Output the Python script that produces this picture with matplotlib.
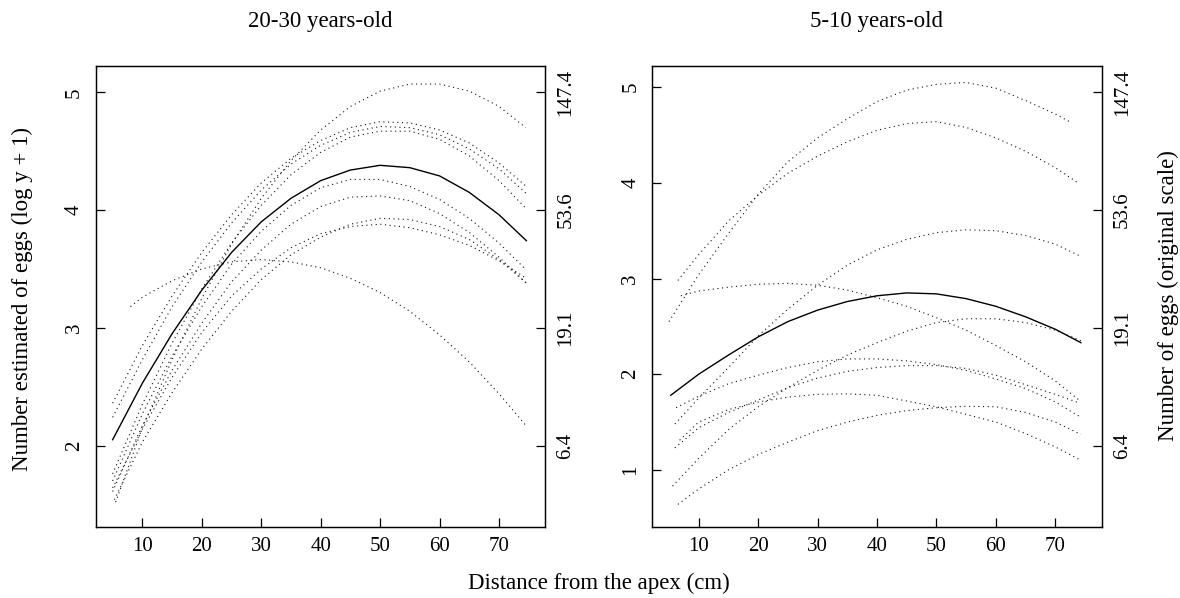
import matplotlib
matplotlib.use("Agg")
import matplotlib.pyplot as plt

plt.rcParams['font.family'] = ['Liberation Serif', 'DejaVu Serif']

# ---------------- data ----------------
distance_mid = [10, 15, 20, 25, 30, 35, 40, 45, 50, 55, 60, 65, 70]

panel_titles = ["20-30 years-old", "5-10 years-old"]
x_ticks = [10, 20, 30, 40, 50, 60, 70]
old_y_ticks = [2, 3, 4, 5]
young_y_ticks = [1, 2, 3, 4, 5]
orig_scale_ticks = [2, 3, 4, 5]
orig_scale_labels = ["6.4", "19.1", "53.6", "147.4"]

# 20-30 years-old: individual curves (dotted) and mean curve (solid)
old_mean = [2.05, 2.53, 2.95, 3.32, 3.64, 3.90, 4.10, 4.25, 4.34, 4.38, 4.36, 4.29, 4.15, 3.96, 3.74]
old_mean_ends = [5.0, 74.6]
old_A = [1.52, 2.15, 2.73, 3.25, 3.71, 4.10, 4.42, 4.68, 4.88, 5.01, 5.07, 5.07, 5.01, 4.88, 4.70]
old_B = [2.36, 2.85, 3.27, 3.64, 3.96, 4.23, 4.44, 4.59, 4.70, 4.75, 4.74, 4.68, 4.57, 4.40, 4.20]
old_C = [2.24, 2.73, 3.18, 3.56, 3.89, 4.17, 4.39, 4.55, 4.66, 4.71, 4.70, 4.64, 4.52, 4.35, 4.14]
old_D = [1.76, 2.35, 2.87, 3.33, 3.72, 4.04, 4.30, 4.49, 4.62, 4.67, 4.67, 4.60, 4.46, 4.25, 4.01]
old_E = [1.70, 2.27, 2.76, 3.18, 3.54, 3.82, 4.04, 4.19, 4.26, 4.26, 4.20, 4.09, 3.93, 3.72, 3.49]
old_F = [1.61, 2.17, 2.64, 3.04, 3.39, 3.66, 3.88, 4.03, 4.11, 4.12, 4.08, 3.97, 3.81, 3.60, 3.38]
old_G = [1.54, 2.03, 2.45, 2.82, 3.14, 3.41, 3.62, 3.77, 3.88, 3.93, 3.92, 3.86, 3.75, 3.58, 3.38]
old_H = [1.64, 2.14, 2.58, 2.96, 3.27, 3.50, 3.68, 3.80, 3.86, 3.88, 3.85, 3.79, 3.70, 3.57, 3.42]
old_I = [3.18, 3.26, 3.40, 3.50, 3.56, 3.58, 3.56, 3.51, 3.42, 3.30, 3.14, 2.94, 2.71, 2.44, 2.16]
old_curves = [old_A, old_B, old_C, old_D, old_E, old_F, old_G, old_H, old_I]
old_starts = [5.5, 5.0, 5.0, 5.0, 5.0, 5.0, 5.3, 5.0, 8.0]
old_ends = [74.5, 74.6, 74.6, 74.6, 74.6, 74.6, 74.6, 74.6, 74.7]

# 5-10 years-old
young_mean = [1.78, 2.00, 2.20, 2.39, 2.55, 2.67, 2.76, 2.82, 2.85, 2.84, 2.79, 2.71, 2.60, 2.47, 2.33]
young_mean_ends = [5.3, 74.3]
young_A = [2.55, 3.04, 3.47, 3.88, 4.22, 4.47, 4.67, 4.85, 4.97, 5.03, 5.05, 4.99, 4.86, 4.72, 4.64]
young_B = [2.98, 3.25, 3.60, 3.87, 4.10, 4.28, 4.43, 4.55, 4.62, 4.64, 4.58, 4.47, 4.33, 4.16, 4.00]
young_C = [2.82, 2.87, 2.91, 2.94, 2.95, 2.93, 2.88, 2.80, 2.71, 2.59, 2.46, 2.30, 2.13, 1.93, 1.73]
young_D = [1.48, 1.75, 2.07, 2.40, 2.68, 2.93, 3.14, 3.30, 3.41, 3.48, 3.51, 3.50, 3.45, 3.36, 3.24]
young_E = [0.83, 1.12, 1.42, 1.66, 1.86, 2.04, 2.20, 2.33, 2.45, 2.54, 2.58, 2.58, 2.54, 2.46, 2.35]
young_F = [1.65, 1.77, 1.90, 1.99, 2.07, 2.13, 2.16, 2.16, 2.14, 2.10, 2.04, 1.95, 1.85, 1.71, 1.55]
young_G = [1.23, 1.44, 1.60, 1.73, 1.86, 1.96, 2.03, 2.07, 2.09, 2.09, 2.06, 1.99, 1.89, 1.79, 1.70]
young_H = [1.31, 1.50, 1.63, 1.71, 1.76, 1.79, 1.795, 1.78, 1.72, 1.66, 1.58, 1.50, 1.38, 1.24, 1.10]
young_I = [0.64, 0.80, 1.00, 1.16, 1.29, 1.41, 1.50, 1.57, 1.62, 1.65, 1.665, 1.66, 1.60, 1.50, 1.37]
young_curves = [young_A, young_B, young_C, young_D, young_E, young_F, young_G, young_H, young_I]
young_starts = [5.0, 6.5, 7.0, 6.0, 5.6, 6.2, 6.0, 6.8, 6.5]
young_ends = [72.4, 73.8, 74.0, 74.0, 74.3, 74.3, 74.0, 74.3, 74.3]

# ---------------- figure ----------------
W, H = 1180, 598
fig = plt.figure(figsize=(W / 100, H / 100), dpi=100)

ax_w = 449.4 / W
ax_h = (527.3 - 65.7) / H
ax_b = 1 - 527.3 / H
ax1 = fig.add_axes([96.0 / W, ax_b, ax_w, ax_h])
ax2 = fig.add_axes([652.3 / W, ax_b, ax_w, ax_h])

old_ylim = (1.306, 5.226)
young_ylim = (0.40, 5.225)
xlim = (2.2, 77.8)

dot_style = dict(color='#111111', lw=0.8, linestyle=(0, (1, 3.2)))
solid_style = dict(color='black', lw=1.0)


def xs(start, end):
    return [start] + distance_mid + [end]


for curve, s, e in zip(old_curves, old_starts, old_ends):
    ax1.plot(xs(s, e), curve, **dot_style)
ax1.plot(xs(*old_mean_ends), old_mean, **solid_style)

for curve, s, e in zip(young_curves, young_starts, young_ends):
    ax2.plot(xs(s, e), curve, **dot_style)
ax2.plot(xs(*young_mean_ends), young_mean, **solid_style)

tick_fs = 15
for ax, ylim, yt, title in [(ax1, old_ylim, old_y_ticks, panel_titles[0]),
                            (ax2, young_ylim, young_y_ticks, panel_titles[1])]:
    ax.set_xlim(*xlim)
    ax.set_ylim(*ylim)
    ax.set_xticks(x_ticks)
    ax.set_yticks(yt)
    ax.set_yticklabels([str(v) for v in yt])
    for sp in ax.spines.values():
        sp.set_linewidth(0.9)
    ax.tick_params(axis='both', direction='in', length=6.5, width=0.9,
                   labelsize=tick_fs)
    ax.tick_params(axis='x', pad=6.8)
    ax.tick_params(axis='y', pad=8.6, labelrotation=90)
    for lab in ax.get_yticklabels():
        lab.set_va('center')
    # twin axis with original-scale labels (positions follow the 20-30 panel scale)
    axr = ax.twinx()
    axr.set_ylim(*old_ylim)
    axr.set_yticks(orig_scale_ticks)
    axr.set_yticklabels(orig_scale_labels)
    axr.tick_params(axis='y', direction='in', length=6.5, width=0.9,
                    labelsize=tick_fs, pad=8.0, labelrotation=90)
    for lab in axr.get_yticklabels():
        lab.set_va('center')
    for sp in axr.spines.values():
        sp.set_linewidth(0.9)
    bb = ax.get_position()
    fig.text(bb.x0 + bb.width / 2, 1 - 22 / H, title, ha='center', va='center',
             fontsize=16.5)

label_fs = 16.5
fig.text(22 / W, 0.5, "Number estimated of eggs (log y + 1)", rotation=90,
         ha='center', va='center', fontsize=label_fs)
fig.text(1168 / W, 1 - 296 / H, "Number of eggs (original scale)", rotation=90,
         ha='center', va='center', fontsize=label_fs)
fig.text(599 / W, 1 - 583 / H, "Distance from the apex (cm)", ha='center',
         va='center', fontsize=label_fs)

fig.savefig("out.png", dpi=100)
